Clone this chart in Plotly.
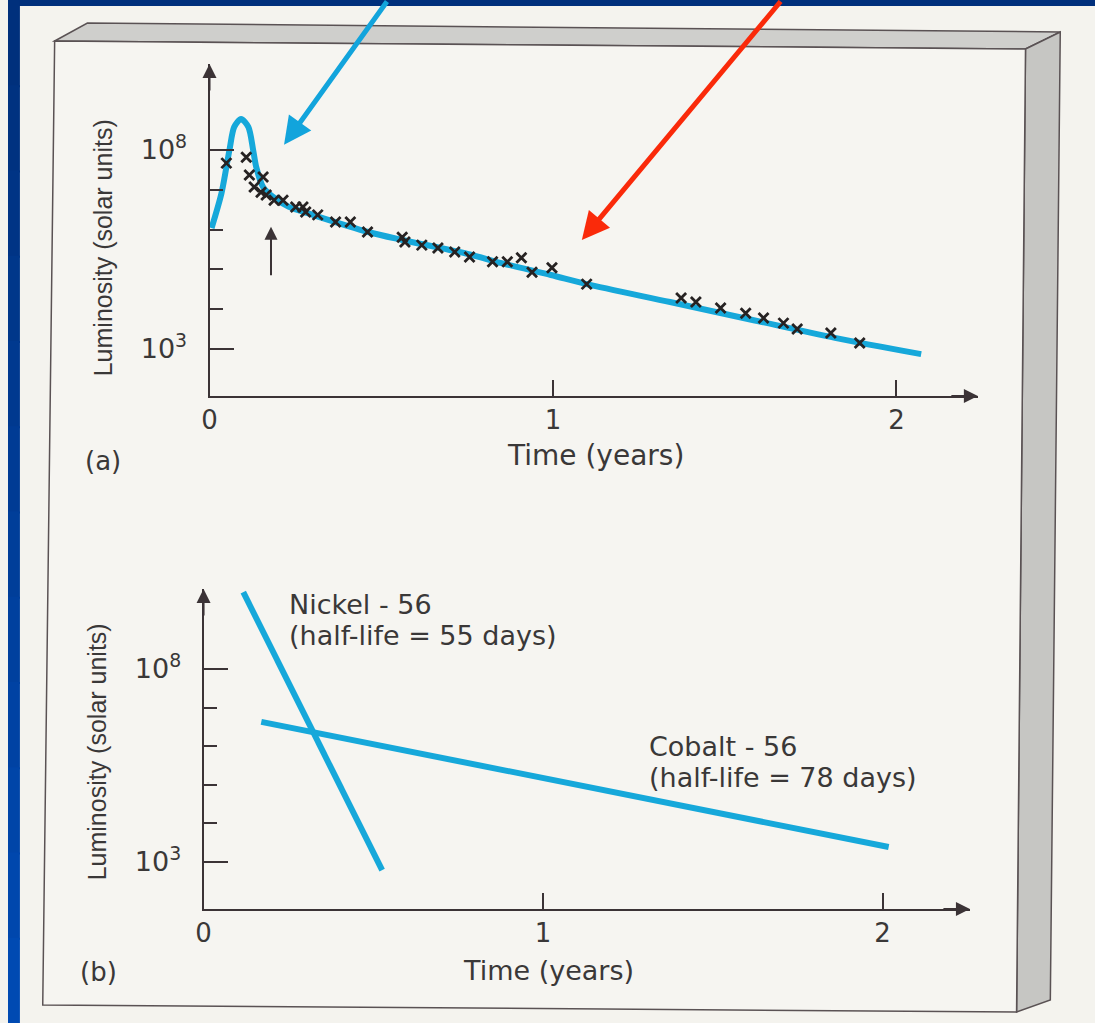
import plotly.graph_objects as go

W, H = 1095, 1023


def px(x):
    return x / W


def py(y):
    return 1 - y / H


# ---------------- data ----------------
# (a) model light curve (time in years, log10 luminosity in solar units)
curve_time = [0.006, 0.035, 0.058, 0.072, 0.092, 0.113, 0.127, 0.136, 0.156, 0.185,
              0.231, 0.301, 0.462, 0.561, 0.751, 0.858, 0.994, 1.098, 1.341, 1.581,
              1.821, 2.072]
curve_log_lum = [6.04, 6.92, 8.00, 8.58, 8.78, 8.58, 8.00, 7.57, 7.07, 6.82,
                 6.57, 6.37, 5.94, 5.74, 5.39, 5.14, 4.86, 4.63, 4.18, 3.73,
                 3.28, 2.87]

# (a) observed points (x marks)
obs_time = [0.049, 0.107, 0.116, 0.156, 0.130, 0.150, 0.165, 0.188, 0.214, 0.251,
            0.272, 0.280, 0.315, 0.367, 0.410, 0.460, 0.561, 0.569, 0.618, 0.665,
            0.714, 0.757, 0.824, 0.867, 0.908, 0.939, 0.997, 1.098, 1.373, 1.416,
            1.488, 1.561, 1.613, 1.671, 1.711, 1.809, 1.893]
obs_log_lum = [7.67, 7.82, 7.37, 7.32, 7.07, 6.94, 6.87, 6.74, 6.74, 6.57,
               6.57, 6.44, 6.37, 6.19, 6.19, 5.94, 5.81, 5.69, 5.61, 5.54,
               5.44, 5.31, 5.19, 5.19, 5.29, 4.93, 5.04, 4.63, 4.28, 4.18,
               4.03, 3.90, 3.78, 3.65, 3.50, 3.40, 3.15]

# (b) decay lines
nickel_time = [0.117, 0.526]
nickel_log_lum = [9.99, 2.79]
cobalt_time = [0.170, 2.018]
cobalt_log_lum = [6.63, 3.39]

x_tick_vals = [0, 1, 2]
x_tick_text = ["0", "1", "2"]
y_tick_vals = [1e3, 1e8]
y_tick_text = ["10<sup>3</sup>", "10<sup>8</sup>"]
y_minor_vals = [1e4, 1e5, 1e6, 1e7]

# ---------------- styles ----------------
CYAN = "#16a8da"
AX = "#3b3336"
TXT = "#3a3838"
FONT_H = "DejaVu Sans"
FONT_V = "Liberation Sans"


def lum(vals):
    return [10 ** v for v in vals]


fig = go.Figure()

fig.add_trace(go.Scatter(
    x=curve_time, y=lum(curve_log_lum), mode="lines",
    line=dict(color=CYAN, width=6, shape="spline", smoothing=0.8),
    xaxis="x", yaxis="y", hoverinfo="skip", cliponaxis=False))

fig.add_trace(go.Scatter(
    x=obs_time, y=lum(obs_log_lum), mode="markers",
    marker=dict(symbol="x-thin", size=10, line=dict(color="#262222", width=2.8)),
    xaxis="x", yaxis="y", hoverinfo="skip", cliponaxis=False))

fig.add_trace(go.Scatter(
    x=nickel_time, y=lum(nickel_log_lum), mode="lines",
    line=dict(color=CYAN, width=6), xaxis="x2", yaxis="y2", cliponaxis=False))

fig.add_trace(go.Scatter(
    x=cobalt_time, y=lum(cobalt_log_lum), mode="lines",
    line=dict(color=CYAN, width=6), xaxis="x2", yaxis="y2", cliponaxis=False))


def xaxis_cfg(domain, rng, anchor):
    return dict(domain=domain, range=rng, anchor=anchor, showline=True, linecolor=AX,
                linewidth=2, showgrid=False, zeroline=False, ticks="inside", ticklen=16,
                tickwidth=2, tickcolor=AX, tickvals=x_tick_vals, ticktext=x_tick_text,
                tickfont=dict(family=FONT_H, size=26, color=TXT), ticklabelstandoff=0,
                fixedrange=True)


def yaxis_cfg(domain, rng, anchor):
    return dict(type="log", domain=domain, range=rng, anchor=anchor, showline=True,
                linecolor=AX, linewidth=2, showgrid=False, zeroline=False,
                ticks="inside", ticklen=24, tickwidth=2, tickcolor=AX,
                tickvals=y_tick_vals, ticktext=y_tick_text,
                minor=dict(tickvals=y_minor_vals, ticks="inside", ticklen=13,
                           tickwidth=2, tickcolor=AX, showgrid=False),
                tickfont=dict(family=FONT_H, size=27, color=TXT), ticklabelstandoff=15,
                fixedrange=True)


shapes = []
# slide background bands
shapes.append(dict(type="rect", xref="paper", yref="paper", x0=0, x1=1, y0=py(6), y1=1,
                   fillcolor="#00307c", line=dict(width=0), layer="below"))
n = 12
for i in range(n):
    f = i / (n - 1)
    r, g, b = 0, int(0x30 + f * (0x4a - 0x30)), int(0x7c + f * (0xb2 - 0x7c))
    shapes.append(dict(type="rect", xref="paper", yref="paper", x0=0, x1=px(12),
                       y0=py(min(H, H * (i + 1) / n + 2)), y1=py(H * i / n),
                       fillcolor=f"rgb({r},{g},{b})", line=dict(width=0), layer="below"))


def path(points):
    return "M " + " L ".join(f"{px(x):.5f},{py(y):.5f}" for x, y in points) + " Z"


# box: top face, side face, front face
shapes.append(dict(type="path", xref="paper", yref="paper",
                   path=path([(47, 41), (80, 23), (1060, 32), (1025, 49)]),
                   fillcolor="#cfcfcc", line=dict(color="#5a5254", width=1.5), layer="below"))
shapes.append(dict(type="path", xref="paper", yref="paper",
                   path=path([(1025, 49), (1060, 32), (1050, 1000), (1016, 1012)]),
                   fillcolor="#c6c6c3", line=dict(color="#5a5254", width=1.5), layer="below"))
shapes.append(dict(type="path", xref="paper", yref="paper",
                   path=path([(47, 41), (1025, 49), (1016, 1012), (35, 1005)]),
                   fillcolor="#f6f5f1", line=dict(color="#5a5254", width=1.5), layer="below"))

annotations = []


def label(text, x, y, size=25, family=FONT_H, angle=0, xanchor="center"):
    annotations.append(dict(text=text, x=px(x), y=py(y), xref="paper", yref="paper",
                            showarrow=False, textangle=angle, xanchor=xanchor,
                            yanchor="middle", borderpad=0,
                            font=dict(family=family, size=size, color=TXT)))


label("Luminosity (solar units)", 96, 248, size=25, family=FONT_V, angle=-90)
label("(a)", 96, 461, size=26)
label("Time (years)", 592, 455, size=28)
label("Luminosity (solar units)", 90, 752, size=25, family=FONT_V, angle=-90)
label("(b)", 91, 972, size=26)
label("Time (years)", 544, 970, size=27)
label("Nickel - 56", 282, 604, size=27, xanchor="left")
label("(half-life = 55 days)", 282, 635, size=27, xanchor="left")
label("Cobalt - 56", 645, 746, size=27, xanchor="left")
label("(half-life = 78 days)", 645, 777, size=27, xanchor="left")


def axis_arrow(x, y, ax, ay):
    annotations.append(dict(x=px(x), y=py(y), xref="paper", yref="paper", ax=ax, ay=ay,
                            text="", showarrow=True, arrowhead=2, arrowsize=1.4,
                            arrowwidth=2, arrowcolor=AX, standoff=0))


axis_arrow(203, 64, 0, 28)
axis_arrow(977, 396, -28, 0)
axis_arrow(197, 589, 0, 28)
axis_arrow(969, 909, -28, 0)

# small marker arrow in (a)
annotations.append(dict(x=0.179, y=6.07, xref="x", yref="y", ax=0, ay=50, text="",
                        showarrow=True, arrowhead=2, arrowsize=1.3, arrowwidth=2,
                        arrowcolor=AX, standoff=0))
# highlight arrows (blue and red)
annotations.append(dict(x=0.217, y=8.13, xref="x", yref="y", ax=104, ay=-152, text="",
                        showarrow=True, arrowhead=2, arrowsize=1.1, arrowwidth=5,
                        arrowcolor="#12a4dc", standoff=0))
annotations.append(dict(x=1.084, y=5.74, xref="x", yref="y", ax=200, ay=-247, text="",
                        showarrow=True, arrowhead=2, arrowsize=1.1, arrowwidth=5,
                        arrowcolor="#fa2a0a", standoff=0))

fig.update_layout(
    width=W, height=H, margin=dict(l=0, r=0, t=0, b=0),
    paper_bgcolor="#f4f3ee", plot_bgcolor="rgba(0,0,0,0)",
    showlegend=False,
    xaxis=xaxis_cfg([px(203), px(977)], [0, 774 / 346], "y"),
    yaxis=yaxis_cfg([py(396), py(64)], [8 - (396 - 150) / 39.8, 8 + (150 - 64) / 39.8], "x"),
    xaxis2=xaxis_cfg([px(197), px(969)], [0, 772 / 342], "y2"),
    yaxis2=yaxis_cfg([py(909), py(589)], [8 - (909 - 669) / 38.6, 8 + (669 - 589) / 38.6], "x2"),
    shapes=shapes, annotations=annotations,
)

fig.write_html("out.html")
